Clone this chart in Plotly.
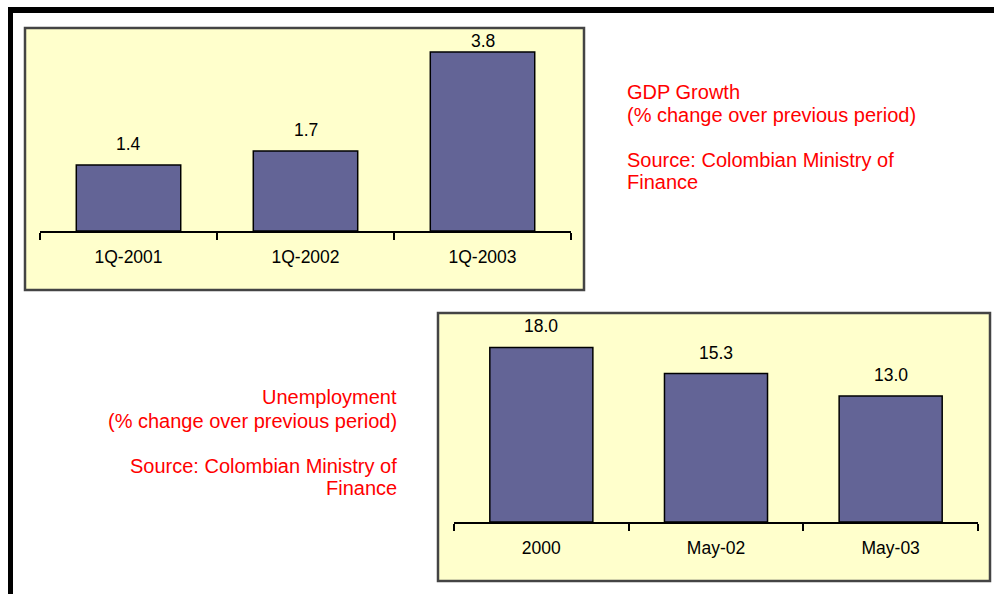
import plotly.graph_objects as go

# ---- data -------------------------------------------------------------
gdp_periods = ["1Q-2001", "1Q-2002", "1Q-2003"]
gdp_growth = [1.4, 1.7, 3.8]

unemp_periods = ["2000", "May-02", "May-03"]
unemp_rate = [18.0, 15.3, 13.0]

gdp_note = ["GDP Growth", "(% change over previous period)",
            "Source: Colombian Ministry of", "Finance"]
unemp_note = ["Unemployment", "(% change over previous period)",
              "Source: Colombian Ministry of", "Finance"]

# ---- page geometry (pixels) --------------------------------------------
W, H = 994, 594
FONT = "Liberation Sans, Arial, Helvetica, sans-serif"
BAR_FILL = "#636496"
PANEL_FILL = "#FFFFCC"
RED = "#FF0000"


def px(x):
    return x / W


def py(y):
    return 1 - y / H


fig = go.Figure()

fig.add_trace(go.Bar(
    x=gdp_periods, y=gdp_growth, xaxis="x", yaxis="y",
    marker=dict(color=BAR_FILL, line=dict(color="black", width=1.5)),
    width=0.59, hoverinfo="skip", showlegend=False,
))
fig.add_trace(go.Bar(
    x=unemp_periods, y=unemp_rate, xaxis="x2", yaxis="y2",
    marker=dict(color=BAR_FILL, line=dict(color="black", width=1.5)),
    width=0.59, hoverinfo="skip", showlegend=False,
))

# value labels above each bar, kept inside the plot area
# (category axes are addressed by index so "2000" is not read as a number)
gdp_ymax, unemp_ymax = 4.2, 20.5
gdp_pad, unemp_pad = 0.446, 2.17
annotations = []
for i, v in enumerate(gdp_growth):
    annotations.append(dict(
        x=i, y=min(v + gdp_pad, 4.03), xref="x", yref="y",
        text=f"{v:.1f}", showarrow=False, yanchor="middle",
        font=dict(family=FONT, size=17.5, color="black")))
for i, v in enumerate(unemp_rate):
    annotations.append(dict(
        x=i, y=min(v + unemp_pad, 20.2), xref="x2", yref="y2",
        text=f"{v:.1f}", showarrow=False, yanchor="middle",
        font=dict(family=FONT, size=17.5, color="black")))

# red captions beside each chart
for text, yc in zip(gdp_note, [92, 115, 160, 182]):
    annotations.append(dict(
        x=px(625), y=py(yc), xref="paper", yref="paper", text=text,
        showarrow=False, xanchor="left", yanchor="middle",
        font=dict(family=FONT, size=20, color=RED)))
for text, yc in zip(unemp_note, [397, 421, 466, 488]):
    annotations.append(dict(
        x=px(399), y=py(yc), xref="paper", yref="paper", text=text,
        showarrow=False, xanchor="right", yanchor="middle",
        font=dict(family=FONT, size=20, color=RED)))

shapes = [
    # black frame along the top and left edges
    dict(type="rect", xref="paper", yref="paper",
         x0=px(8), x1=px(994), y0=py(13), y1=py(7),
         fillcolor="black", line=dict(width=0), layer="below"),
    dict(type="rect", xref="paper", yref="paper",
         x0=px(8), x1=px(13), y0=py(594), y1=py(7),
         fillcolor="black", line=dict(width=0), layer="below"),
    # chart panels
    dict(type="rect", xref="paper", yref="paper",
         x0=px(25), x1=px(584), y0=py(290), y1=py(28),
         fillcolor=PANEL_FILL, line=dict(color="#444444", width=2.5),
         layer="below"),
    dict(type="rect", xref="paper", yref="paper",
         x0=px(438), x1=px(990), y0=py(581), y1=py(313),
         fillcolor=PANEL_FILL, line=dict(color="#444444", width=2.5),
         layer="below"),
]

xaxis_style = dict(
    type="category", range=[-0.5, 2.5], showline=True, linecolor="black",
    linewidth=1.5, ticks="outside", tickson="boundaries", ticklen=7,
    tickwidth=1.5, tickcolor="black", showgrid=False, zeroline=False,
    fixedrange=True, tickfont=dict(family=FONT, size=17.5, color="black"),
    ticklabelstandoff=9,
)
yaxis_style = dict(visible=False, showgrid=False, zeroline=False,
                   fixedrange=True)

fig.update_layout(
    width=W, height=H, margin=dict(l=0, r=0, t=0, b=0),
    paper_bgcolor="white", plot_bgcolor="rgba(0,0,0,0)",
    xaxis=dict(domain=[px(40), px(571)], anchor="y", **xaxis_style),
    yaxis=dict(domain=[py(231), py(231 - gdp_ymax * 47.1)],
               range=[0, gdp_ymax], anchor="x", **yaxis_style),
    xaxis2=dict(domain=[px(454), px(978)], anchor="y2", **xaxis_style),
    yaxis2=dict(domain=[py(522), py(522 - unemp_ymax * 9.7)],
                range=[0, unemp_ymax], anchor="x2", **yaxis_style),
    shapes=shapes, annotations=annotations, showlegend=False,
)

fig.write_html("out.html", config={"displayModeBar": False})
